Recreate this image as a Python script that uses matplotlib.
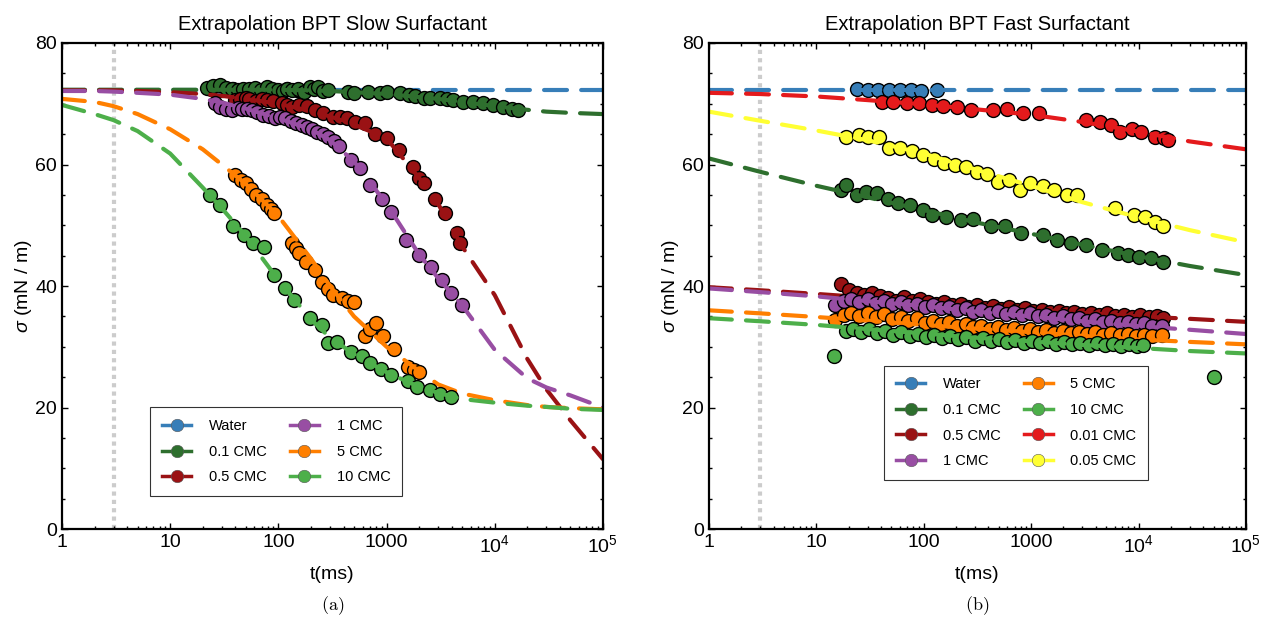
import matplotlib
matplotlib.use("Agg")
import matplotlib.pyplot as plt
from matplotlib.lines import Line2D
from matplotlib.ticker import FixedLocator, LogLocator, NullFormatter, MultipleLocator

plt.rcParams['font.family'] = ['Liberation Sans', 'DejaVu Sans']
plt.rcParams['mathtext.fontset'] = 'custom'
plt.rcParams['mathtext.rm'] = 'Liberation Sans'
plt.rcParams['mathtext.it'] = 'Liberation Sans:italic'

# ---------------- colours / labels ----------------
colors = {
    "Water": "#377eb8",
    "0.1 CMC": "#2e6f2e",
    "0.5 CMC": "#9a1214",
    "1 CMC": "#984ea3",
    "5 CMC": "#ff7f00",
    "10 CMC": "#4daf4a",
    "0.01 CMC": "#e41a1c",
    "0.05 CMC": "#ffff33",
}

# ---------------- (a) slow surfactant ----------------
fit_t_a = [1, 2, 3, 5, 10, 20, 30, 50, 100, 200, 300, 500, 1000, 2000, 3000, 5000,
           1e4, 2e4, 3e4, 5e4, 1e5]
fit_a = {
    "Water":   [72.2] * 21,
    "0.1 CMC": [72.3, 72.3, 72.3, 72.3, 72.3, 72.3, 72.3, 72.3, 72.3, 72.2, 72.1, 71.9, 71.6,
                71.1, 70.8, 70.3, 69.6, 69.0, 68.7, 68.5, 68.3],
    "0.5 CMC": [72.2, 72.2, 72.2, 72.1, 71.9, 71.6, 71.3, 70.8, 70.0, 68.8, 67.9, 66.6, 64.3,
                57.8, 53.5, 46.5, 38.5, 28.0, 23.0, 17.9, 11.5],
    "1 CMC":   [72.1, 72.1, 72.0, 71.8, 71.5, 70.8, 70.2, 69.2, 67.6, 65.8, 64.0, 60.5, 53.5,
                45.2, 41.3, 36.8, 29.5, 24.8, 23.3, 22.0, 20.0],
    "5 CMC":   [70.8, 70.3, 69.6, 68.3, 65.8, 62.5, 60.0, 56.8, 51.5, 44.5, 40.0, 35.0, 30.0,
                26.0, 23.8, 22.3, 21.2, 20.4, 20.1, 19.9, 19.7],
    "10 CMC":  [69.8, 68.3, 67.3, 65.5, 61.8, 56.2, 52.8, 48.2, 41.0, 34.5, 31.5, 28.8, 25.8,
                23.4, 22.4, 21.4, 20.8, 20.3, 20.1, 19.8, 19.6],
}

water_t_a = [24, 30, 38, 48, 60, 76, 95, 120, 150]
water_s_a = [72.4, 72.2, 72.5, 72.3, 72.4, 72.2, 72.3, 72.4, 72.3]

c01_t_a = [22, 25, 29, 33, 37, 42, 47, 54, 61, 69, 78, 88, 99, 110, 120, 135, 152, 172, 195,
           215, 232, 260, 290, 440, 500, 670, 870, 1000, 1330, 1600, 1830, 2200, 2500, 3100,
           3600, 4100, 5100, 6300, 7800, 9600, 12000, 14500, 16500]
c01_s_a = [72.6, 72.9, 73.1, 72.6, 72.5, 72.3, 72.5, 72.4, 72.6, 72.3, 72.8, 72.4, 72.3, 72.1,
           72.5, 72.2, 72.5, 72.0, 72.8, 72.4, 72.7, 72.1, 72.3, 72.0, 71.8, 72.0, 71.7, 71.9,
           71.7, 71.4, 71.2, 71.0, 70.9, 70.9, 70.7, 70.6, 70.3, 70.3, 70.1, 69.8, 69.5, 69.2,
           69.0]

c05_t_a = [40, 44, 50, 54, 62, 70, 78, 90, 108, 120, 133, 155, 183, 218, 260, 323, 375, 428,
           513, 630, 780, 1000, 1290, 1770, 2000, 2200, 2800, 3500, 4440, 4780]
c05_s_a = [70.6, 70.8, 70.9, 70.8, 70.5, 70.7, 70.6, 70.4, 70.1, 69.8, 69.5, 69.8, 69.6, 69.0,
           68.5, 67.9, 67.8, 67.6, 67.0, 66.8, 65.1, 64.3, 62.4, 59.6, 57.8, 56.9, 54.4, 52.0,
           48.7, 47.1]

c1_t_a = [26, 29, 33, 37, 42, 46, 51, 57, 64, 72, 82, 93, 104, 115, 130, 147, 165, 183, 205,
          226, 258, 290, 325, 360, 470, 570, 710, 900, 1110, 1510, 2000, 2560, 3250, 3970, 5000]
c1_s_a = [70.1, 69.5, 69.2, 69.0, 69.3, 69.2, 69.1, 69.0, 68.6, 68.1, 68.0, 67.6, 67.8, 67.6,
          67.2, 66.8, 66.5, 66.2, 65.8, 65.4, 65.0, 64.6, 63.8, 63.0, 60.7, 59.4, 56.6, 54.4,
          52.2, 47.6, 45.1, 43.2, 41.0, 38.8, 36.9]

c5_t_a = [40, 45, 50, 56, 62, 70, 78, 85, 91, 134, 145, 155, 180, 217, 255, 290, 320, 385, 440,
          505, 630, 700, 800, 930, 1170, 1580, 1800, 1990]
c5_s_a = [58.3, 57.5, 56.9, 56.0, 55.0, 54.3, 53.3, 52.6, 52.0, 47.0, 46.2, 45.4, 44.0, 42.6,
          40.7, 39.5, 38.5, 38.0, 37.6, 37.4, 31.7, 33.0, 33.9, 31.7, 29.7, 26.7, 26.2, 25.9]

c10_t_a = [23.4, 29, 38, 48, 58, 73, 91, 115, 140, 195, 255, 290, 350, 470, 590, 710, 890, 1110,
           1580, 1900, 2500, 3100, 3970]
c10_s_a = [55.0, 53.3, 49.8, 48.4, 47.0, 46.5, 41.8, 39.7, 37.7, 34.7, 33.6, 30.6, 30.8, 29.2,
           28.4, 27.3, 26.4, 25.4, 24.3, 23.4, 22.9, 22.3, 21.8]

# ---------------- (b) fast surfactant ----------------
fit_t_b = [1, 3, 10, 30, 100, 300, 1000, 3000, 1e4, 3e4, 1e5]
fit_b = {
    "Water":    [72.2] * 11,
    "0.1 CMC":  [61.0, 58.8, 56.5, 54.6, 52.5, 50.5, 48.6, 46.8, 44.9, 43.3, 41.8],
    "0.5 CMC":  [39.8, 39.3, 38.7, 38.1, 37.5, 36.8, 36.2, 35.6, 35.0, 34.6, 34.1],
    "1 CMC":    [39.6, 39.0, 38.3, 37.5, 36.7, 35.8, 35.0, 34.2, 33.4, 32.8, 32.1],
    "5 CMC":    [36.0, 35.5, 34.9, 34.3, 33.6, 33.0, 32.4, 31.8, 31.2, 30.8, 30.4],
    "10 CMC":   [34.7, 34.2, 33.6, 32.9, 32.2, 31.5, 30.9, 30.3, 29.8, 29.3, 28.9],
    "0.01 CMC": [71.8, 71.6, 71.2, 70.6, 69.9, 69.1, 68.2, 67.0, 65.4, 63.8, 62.5],
    "0.05 CMC": [68.7, 67.2, 65.6, 64.0, 61.8, 59.2, 56.5, 53.8, 51.3, 49.2, 47.2],
}

water_t_b = [23.9, 30.2, 37.9, 47.4, 60.0, 75.3, 94.5, 134]
water_s_b = [72.4, 72.2, 72.3, 72.2, 72.3, 72.2, 72.1, 72.3]

c01_t_b = [16.9, 19, 23.9, 29, 36.5, 46, 57.6, 75, 98.6, 119, 161, 220, 287, 420, 570, 800,
           1290, 1740, 2360, 3220, 4570, 6400, 8000, 10000, 13200, 17000]
c01_s_b = [55.8, 56.6, 55.0, 55.5, 55.3, 54.4, 53.6, 53.3, 52.5, 51.7, 51.4, 50.9, 51.1, 49.8,
           49.8, 48.7, 48.4, 47.6, 47.0, 46.7, 45.9, 45.4, 45.1, 44.8, 44.6, 44.0]

t_lo_a = [17, 20, 24, 28, 33, 39, 46, 55, 65, 77, 92, 110, 130, 155, 185, 220, 260, 310, 370,
          440, 520, 620, 740, 880, 1050, 1250, 1500, 1800, 2100, 2500, 3000, 3600, 4300, 5100,
          6100, 7300, 8700, 10400, 12400, 14800, 17000]
t_lo_b = [15, 18, 21, 25, 30, 36, 43, 51, 61, 72, 86, 102, 122, 145, 172, 205, 245, 290, 345,
          410, 490, 580, 690, 820, 980, 1170, 1390, 1650, 1970, 2340, 2790, 3320, 3950, 4700,
          5600, 6650, 7900, 9400, 11200, 13300, 16500]

c05_s_b = [40.3, 39.4, 38.9, 38.6, 38.9, 38.3, 38.0, 37.6, 38.2, 37.6, 37.9, 37.3, 37.0, 37.4,
           36.9, 37.1, 36.6, 36.9, 36.4, 36.7, 36.2, 36.5, 36.0, 36.3, 35.9, 36.1, 35.7, 35.9,
           35.5, 35.8, 35.4, 35.6, 35.2, 35.5, 35.1, 35.3, 34.9, 35.2, 34.9, 35.0, 34.8]
c1_s_b = [36.9, 37.6, 37.9, 37.4, 37.8, 37.2, 37.5, 37.0, 37.3, 36.8, 37.1, 36.6, 36.9, 36.4,
          36.6, 36.0, 36.3, 35.8, 36.1, 35.6, 35.9, 35.4, 35.7, 35.2, 35.5, 35.0, 35.2, 34.7,
          35.0, 34.5, 34.8, 34.3, 34.6, 34.1, 34.3, 33.9, 34.1, 33.7, 33.9, 33.5, 33.4]
c5_s_b = [34.4, 35.3, 35.6, 35.0, 35.5, 34.9, 35.4, 34.6, 34.9, 34.3, 34.7, 33.9, 34.3, 33.8,
          34.0, 33.4, 33.8, 33.2, 33.5, 33.0, 33.3, 32.8, 33.1, 32.6, 32.9, 32.5, 32.7, 32.3,
          32.6, 32.2, 32.5, 32.1, 32.4, 32.0, 32.3, 31.9, 32.1, 31.8, 32.0, 31.7, 31.9]

c10_t_b = [14.6, 19, 22, 26, 31, 37, 44, 52, 62, 74, 88, 105, 125, 148, 176, 210, 250, 300,
           355, 420, 500, 600, 710, 850, 1010, 1200, 1430, 1700, 2030, 2420, 2880, 3430, 4080,
           4860, 5780, 6880, 8190, 9750, 11000, 50000]
c10_s_b = [28.4, 32.6, 33.0, 32.5, 32.9, 32.3, 32.6, 32.0, 32.4, 31.8, 32.1, 31.6, 31.9, 31.4,
           31.8, 31.2, 31.6, 31.0, 31.4, 30.9, 31.3, 30.8, 31.1, 30.7, 31.0, 30.6, 30.9, 30.5,
           30.8, 30.4, 30.7, 30.3, 30.6, 30.3, 30.5, 30.2, 30.4, 30.1, 30.3, 25.1]

c001_t_b = [40.9, 51.6, 69.8, 91, 119, 150, 203, 275, 440, 595, 840, 1180, 3220, 4360, 5500,
            6660, 8700, 10500, 14200, 17100, 19000]
c001_s_b = [70.3, 70.3, 70.2, 70.1, 69.8, 69.6, 69.5, 69.0, 69.0, 69.2, 68.5, 68.4, 67.3, 67.0,
            66.5, 65.4, 65.8, 65.4, 64.6, 64.3, 64.1]

c005_t_b = [19, 24.9, 30.2, 38, 47.5, 60, 78.5, 98.6, 124, 156, 195, 246, 310, 390, 490, 620,
            780, 980, 1290, 1650, 2170, 2660, 6100, 9100, 11400, 14300, 17000]
c005_s_b = [64.6, 64.9, 64.6, 64.6, 62.7, 62.7, 62.3, 61.6, 60.9, 60.2, 59.9, 59.6, 58.8, 58.5,
            57.2, 57.5, 55.8, 56.9, 56.4, 55.8, 55.0, 55.0, 52.8, 51.7, 51.4, 50.6, 49.8]

data_a = [
    ("Water", water_t_a, water_s_a),
    ("0.1 CMC", c01_t_a, c01_s_a),
    ("0.5 CMC", c05_t_a, c05_s_a),
    ("1 CMC", c1_t_a, c1_s_a),
    ("5 CMC", c5_t_a, c5_s_a),
    ("10 CMC", c10_t_a, c10_s_a),
]
data_b = [
    ("Water", water_t_b, water_s_b),
    ("0.1 CMC", c01_t_b, c01_s_b),
    ("0.5 CMC", t_lo_a, c05_s_b),
    ("1 CMC", t_lo_b, c1_s_b),
    ("5 CMC", t_lo_b, c5_s_b),
    ("10 CMC", c10_t_b, c10_s_b),
    ("0.01 CMC", c001_t_b, c001_s_b),
    ("0.05 CMC", c005_t_b, c005_s_b),
]

dash = (0, (5.5, 3.4))


def draw_panel(ax, data, fit_t, fits, title, legend_loc):
    ax.axvline(3, color="#cccccc", lw=3, ls=(0, (1, 1)), zorder=1)
    for name, t, s in data:
        c = colors[name]
        ax.plot(t, s, ls="none", marker="o", ms=10, mfc=c, mec="black", mew=1.0, zorder=2)
        ax.plot(fit_t, fits[name], color=c, lw=3, ls=dash, dash_capstyle="round", zorder=2)
    ax.set_xscale("log")
    ax.set_xlim(1, 1e5)
    ax.set_ylim(0, 80)
    ax.xaxis.set_major_locator(FixedLocator([1, 10, 100, 1000, 1e4, 1e5]))
    ax.set_xticklabels(["1", "10", "100", "1000", r"$\mathrm{10^4}$", r"$\mathrm{10^5}$"])
    ax.xaxis.set_minor_locator(LogLocator(base=10, subs=range(2, 10), numticks=20))
    ax.xaxis.set_minor_formatter(NullFormatter())
    ax.yaxis.set_major_locator(MultipleLocator(20))
    ax.yaxis.set_minor_locator(MultipleLocator(5))
    ax.tick_params(which="both", direction="in", top=True, right=True, labelsize=14, width=1)
    ax.tick_params(which="major", length=4)
    ax.tick_params(which="minor", length=2.5)
    for sp in ax.spines.values():
        sp.set_linewidth(1.6)
    ax.set_title(title, fontsize=14.5, pad=9)
    ax.set_xlabel("t(ms)", fontsize=14, labelpad=7)
    ax.set_ylabel(r"$\sigma$ (mN / m)", fontsize=14, labelpad=1)

    handles = [Line2D([], [], color=colors[n], lw=2.5, marker="o", ms=9, mfc=colors[n],
                      mec="0.35", mew=0.4) for n, _, _ in data]
    labels = [n for n, _, _ in data]
    leg = ax.legend(handles, labels, ncol=2, loc="lower left", bbox_to_anchor=legend_loc,
                    fontsize=10.5, frameon=True, fancybox=False, edgecolor="black",
                    handlelength=2.0, columnspacing=1.6, labelspacing=0.8, borderpad=0.8,
                    handletextpad=1.2)
    leg.get_frame().set_linewidth(0.8)


fig = plt.figure(figsize=(12.68, 6.24), dpi=100)
ax1 = fig.add_axes([0.0489, 0.1522, 0.4266, 0.7789])
ax2 = fig.add_axes([0.5591, 0.1522, 0.4235, 0.7789])

draw_panel(ax1, data_a, fit_t_a, fit_a, "Extrapolation BPT Slow Surfactant", (0.15, 0.053))
draw_panel(ax2, data_b, fit_t_b, fit_b, "Extrapolation BPT Fast Surfactant", (0.313, 0.086))

fig.text(0.2626, 0.022, r"$\mathrm{(a)}$", ha="center", fontsize=13, math_fontfamily="cm")
fig.text(0.7709, 0.022, r"$\mathrm{(b)}$", ha="center", fontsize=13, math_fontfamily="cm")

fig.savefig("out.png", dpi=100)
